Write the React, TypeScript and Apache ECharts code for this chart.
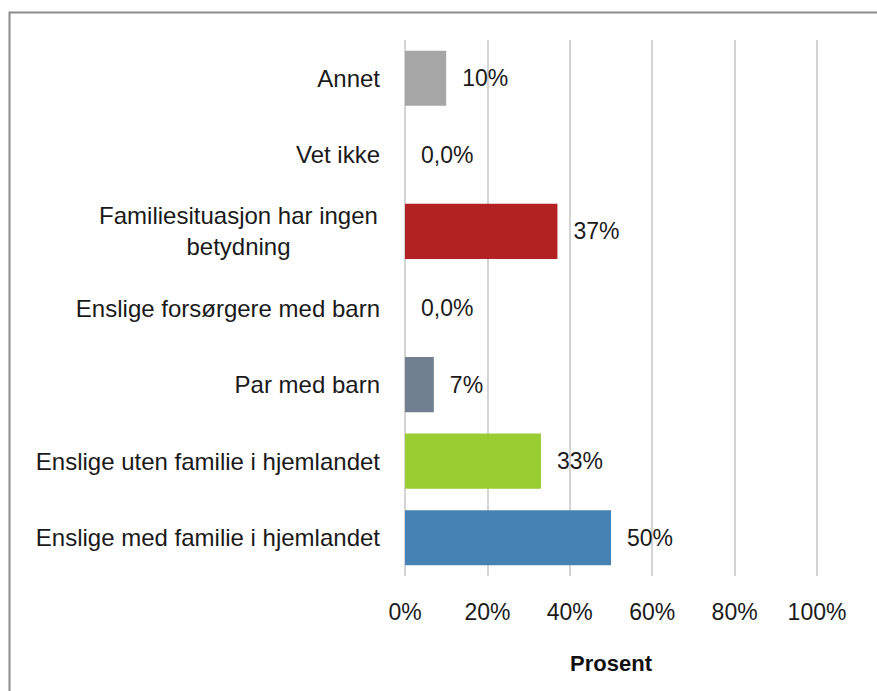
import React, { useEffect, useRef } from "react";
import * as echarts from "echarts";

const categories = [
  "Enslige med familie i hjemlandet",
  "Enslige uten familie i hjemlandet",
  "Par med barn",
  "Enslige forsørgere med barn",
  "Familiesituasjon har ingen betydning",
  "Vet ikke",
  "Annet",
];
const values = [50, 33, 7, 0, 37, 0, 10];
const colors = ["#4682B4", "#9ACD32", "#708090", "#999999", "#B22222", "#999999", "#A6A6A6"];
const xTicks = [0, 20, 40, 60, 80, 100];

const FONT = "'Liberation Sans', Arial, sans-serif";

export default function App() {
  const ref = useRef<HTMLDivElement>(null);
  useEffect(() => {
    if (!ref.current) return;
    const chart = echarts.init(ref.current, undefined, { renderer: "svg" });
    chart.setOption({
      animation: false,
      backgroundColor: "#ffffff",
      graphic: [
        {
          type: "rect",
          shape: { x: 9.5, y: 12.5, width: 900, height: 700 },
          style: { fill: "none", stroke: "#8c8c8c", lineWidth: 2 },
          silent: true,
        },
      ],
      grid: { left: 405, right: 60, top: 40, height: 536, containLabel: false },
      xAxis: {
        type: "value",
        min: xTicks[0],
        max: xTicks[xTicks.length - 1],
        interval: 20,
        name: "Prosent",
        nameLocation: "middle",
        nameGap: 76,
        nameTextStyle: { fontFamily: FONT, fontSize: 22, fontWeight: "bold", color: "#111" },
        axisLine: { show: false },
        axisTick: { show: false },
        axisLabel: { formatter: "{value}%", fontFamily: FONT, fontSize: 23, color: "#1a1a1a", margin: 24 },
        splitLine: { show: true, lineStyle: { color: "#d4d4d4", width: 2 } },
      },
      yAxis: {
        type: "category",
        data: categories,
        axisLine: { show: false },
        axisTick: { show: false },
        axisLabel: {
          margin: 25,
          fontFamily: FONT,
          fontSize: 24,
          color: "#1a1a1a",
          formatter: (v: string) => {
            if (v === "Familiesituasjon har ingen betydning") {
              return "{c|Familiesituasjon har ingen}\n{c|betydning}";
            }
            return v;
          },
          rich: {
            c: { width: 283, align: "center", fontFamily: FONT, fontSize: 24, color: "#1a1a1a", lineHeight: 31 },
          },
        },
      },
      series: [
        {
          type: "bar",
          barWidth: "72%",
          data: values.map((v, i) => ({ value: v, itemStyle: { color: colors[i] } })),
          label: {
            show: true,
            position: "right",
            distance: 16,
            fontFamily: FONT,
            fontSize: 23,
            color: "#1a1a1a",
            formatter: (p: any) => (p.value === 0 ? "0,0%" : p.value + "%"),
          },
        },
      ],
    });
    return () => chart.dispose();
  }, []);
  return (
    <div
      ref={ref}
      style={{ position: "fixed", left: 0, top: 0, width: 877, height: 691 }}
    />
  );
}
